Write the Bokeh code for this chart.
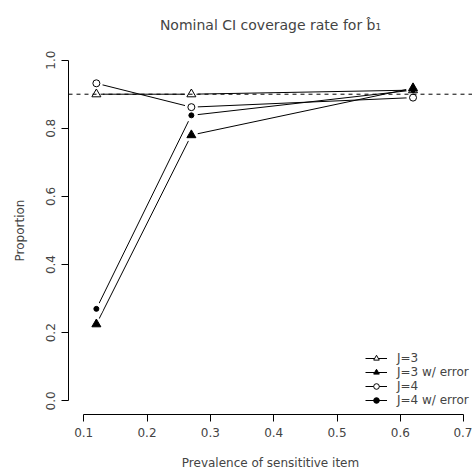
from bokeh.plotting import figure
from bokeh.models import Span, Legend, LegendItem, FixedTicker, Range1d
from bokeh.embed import file_html
from bokeh.resources import INLINE

prevalence = [0.12, 0.27, 0.62]
j3 = [0.900, 0.900, 0.912]
j3_err = [0.225, 0.780, 0.918]
j4 = [0.932, 0.862, 0.890]
j4_err = [0.270, 0.838, 0.912]
nominal = 0.9
x_ticks = [0.1, 0.2, 0.3, 0.4, 0.5, 0.6, 0.7]
y_ticks = [0.0, 0.2, 0.4, 0.6, 0.8, 1.0]
labels = ["J=3", "J=3 w/ error", "J=4", "J=4 w/ error"]

FONT = "DejaVu Sans"
FS = "12px"

p = figure(width=472, height=472, output_backend="svg", toolbar_location=None,
           x_range=Range1d(0.076, 0.7139), y_range=Range1d(-0.04, 1.04),
           min_border_left=68, min_border_right=0, min_border_top=46, min_border_bottom=58,
           title="Nominal CI coverage rate for b\u0302\u2081")
p.outline_line_color = None
p.grid.visible = False
p.background_fill_color = "white"
p.border_fill_color = "white"

p.title.align = "center"
p.title.text_font = FONT
p.title.text_font_size = "14px"
p.title.text_font_style = "normal"
p.title.standoff = 28

for ax in (p.xaxis[0], p.yaxis[0]):
    ax.axis_line_color = "black"
    ax.major_tick_line_color = "black"
    ax.minor_tick_line_color = None
    ax.major_tick_in = 0
    ax.major_tick_out = 7
    ax.major_label_text_font = FONT
    ax.major_label_text_font_size = FS
    ax.axis_label_text_font = FONT
    ax.axis_label_text_font_size = FS
    ax.axis_label_text_font_style = "normal"

p.xaxis[0].ticker = FixedTicker(ticks=x_ticks)
p.xaxis[0].bounds = (x_ticks[0], x_ticks[-1])
p.xaxis[0].major_label_overrides = {t: f"{t:.1f}" for t in x_ticks}
p.xaxis[0].axis_label = "Prevalence of sensititive item"
p.xaxis[0].major_label_standoff = 6
p.xaxis[0].axis_label_standoff = 16

p.yaxis[0].ticker = FixedTicker(ticks=y_ticks)
p.yaxis[0].bounds = (y_ticks[0], y_ticks[-1])
p.yaxis[0].major_label_overrides = {t: f"{t:.1f}" for t in y_ticks}
p.yaxis[0].major_label_orientation = "vertical"
p.yaxis[0].axis_label = "Proportion"
p.yaxis[0].major_label_standoff = 6
p.yaxis[0].axis_label_standoff = 17

series = [
    (j3, "triangle", 9, "white"),
    (j3_err, "triangle", 9, "black"),
    (j4, "circle", 7, "white"),
    (j4_err, "circle", 5, "black"),
]

line_rs = []
for ys, _, _, _ in series:
    line_rs.append(p.line(prevalence, ys, line_color="black", line_width=1))

# white halos to mimic R's type="b" gaps
for ys, _, _, _ in series:
    p.scatter(prevalence, ys, marker="circle", size=13, fill_color="white", line_color=None)

mark_rs = []
for ys, mk, sz, fc in series:
    mark_rs.append(p.scatter(prevalence, ys, marker=mk, size=sz, fill_color=fc,
                             line_color="black", line_width=1))

p.add_layout(Span(location=nominal, dimension="width", line_color="black",
                  line_width=1, line_dash="4 4"))

items = [LegendItem(label=lab, renderers=[lr, mr]) for lab, lr, mr in zip(labels, line_rs, mark_rs)]
legend = Legend(items=items, location=(297, 7), padding=0, margin=0, spacing=0,
                glyph_width=22, glyph_height=14, label_height=14, label_standoff=10,
                label_text_font=FONT, label_text_font_size=FS,
                background_fill_alpha=0, border_line_color=None)
p.add_layout(legend, "center")

open("out.html", "w").write(file_html(p, INLINE))
